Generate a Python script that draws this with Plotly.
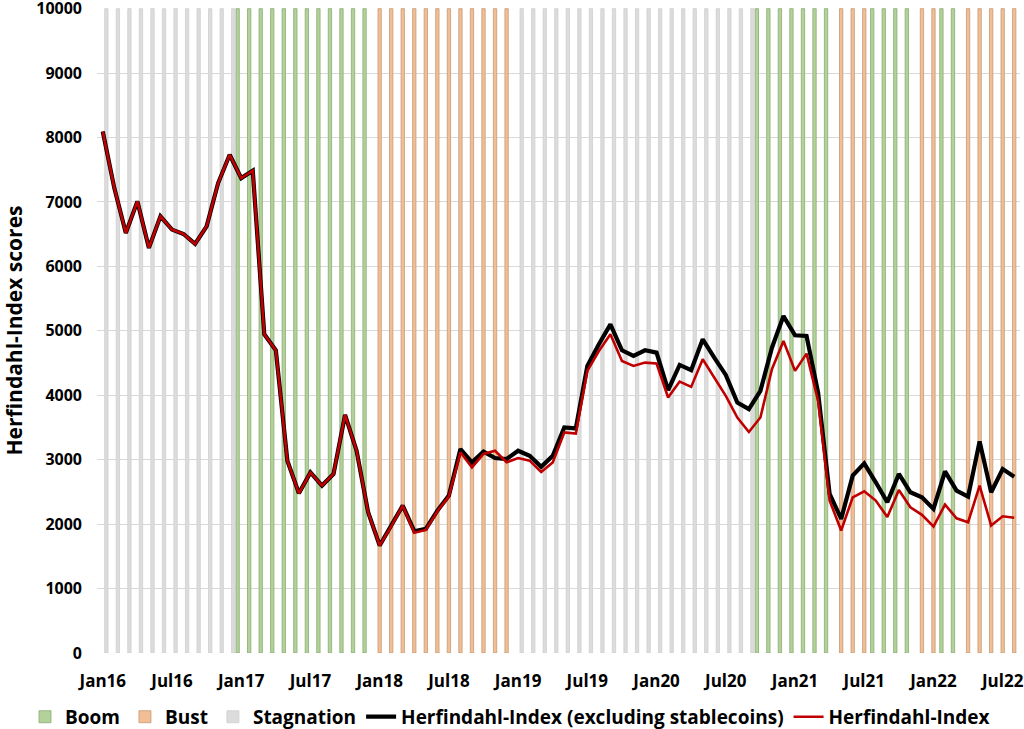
import plotly.graph_objects as go
import pandas as pd

# Monthly categories Jan16 .. Aug22
months = [d.strftime("%b%y") for d in pd.date_range("2016-01-01", "2022-08-01", freq="MS")]

# Market regime per month: S = Stagnation, G = Boom, R = Bust
regime_codes = (
    "SSSSSSSSSSSS"   # 2016
    "GGGGGGGGGGGG"   # 2017
    "RRRRRRRRRRRR"   # 2018
    "SSSSSSSSSSSS"   # 2019
    "SSSSSSSSSGGG"   # 2020
    "GGGGRRRGGGGR"   # 2021
    "RGGRRRRR"       # 2022 (Jan-Aug)
)

hhi_ex_stable = [
    8093, 7215, 6519, 7009, 6287, 6777, 6571, 6503, 6348, 6622,
    7293, 7732, 7370, 7484, 4946, 4698, 2985, 2478, 2803, 2598,
    2779, 3697, 3139, 2184, 1669, 1965, 2288, 1890, 1927, 2210,
    2443, 3165, 2958, 3125, 3026, 3010, 3139, 3060, 2890, 3062,
    3500, 3485, 4455, 4791, 5100, 4698, 4610, 4698, 4662, 4079,
    4471, 4389, 4868, 4584, 4316, 3887, 3785, 4068, 4738, 5229,
    4930, 4920, 4042, 2469, 2082, 2752, 2943, 2649, 2339, 2779,
    2494, 2416, 2237, 2819, 2520, 2427, 3283, 2494, 2856, 2737,
]

hhi = [
    8093, 7215, 6519, 7009, 6287, 6777, 6571, 6503, 6348, 6622,
    7293, 7732, 7370, 7484, 4946, 4698, 2985, 2478, 2803, 2598,
    2779, 3697, 3139, 2184, 1669, 1965, 2288, 1865, 1910, 2200,
    2430, 3115, 2880, 3090, 3139, 2960, 3026, 2985, 2810, 2958,
    3423, 3405, 4378, 4687, 4946, 4533, 4455, 4507, 4492, 3965,
    4212, 4130, 4559, 4274, 3991, 3655, 3430, 3655, 4404, 4842,
    4378, 4646, 3913, 2365, 1901, 2416, 2509, 2365, 2110, 2531,
    2262, 2144, 1963, 2303, 2091, 2029, 2598, 1978, 2122, 2098,
]

tick_labels = ["Jan16", "Jul16", "Jan17", "Jul17", "Jan18", "Jul18", "Jan19",
               "Jul19", "Jan20", "Jul20", "Jan21", "Jul21", "Jan22", "Jul22"]
y_ticks = [0, 1000, 2000, 3000, 4000, 5000, 6000, 7000, 8000, 9000, 10000]

BAR_TOP = 10000
regimes = [
    ("Boom", "G", "#B2D29A", "#8AAB72", -0.455),
    ("Bust", "R", "#F2BE95", "#C59A74", -0.145),
    ("Stagnation", "S", "#DCDCDC", "#CFCFCF", 0.165),
]

idx = list(range(len(months)))
tick_pos = [months.index(t) for t in tick_labels]

FONT = "Open Sans"
fig = go.Figure()

for name, code, fill, edge, off in regimes:
    vals = [BAR_TOP if c == code else None for c in regime_codes]
    fig.add_trace(go.Bar(
        x=idx, y=vals, name=name,
        width=0.29, offset=off,
        marker=dict(color=fill, line=dict(color=edge, width=0.8)),
        customdata=months, hoverinfo="skip",
    ))

fig.add_trace(go.Scatter(
    x=idx, y=hhi_ex_stable, mode="lines",
    name="Herfindahl-Index (excluding stablecoins)",
    line=dict(color="#000000", width=4.2),
    customdata=months,
))
fig.add_trace(go.Scatter(
    x=idx, y=hhi, mode="lines",
    name="Herfindahl-Index",
    line=dict(color="#C00000", width=2.6),
    customdata=months,
))

fig.update_layout(
    width=1024, height=729,
    margin=dict(l=97, r=4, t=8, b=76, autoexpand=False),
    plot_bgcolor="white", paper_bgcolor="white",
    barmode="overlay",
    font=dict(family=FONT, color="black", size=15, weight="bold"),
    showlegend=True,
    legend=dict(
        orientation="h", x=-0.078, xanchor="left", y=-0.099, yanchor="middle",
        font=dict(family=FONT, size=19, weight="bold", color="black"),
        traceorder="normal", itemwidth=30, tracegroupgap=0,
    ),
)

fig.update_xaxes(
    type="linear",
    range=[-0.5, len(months) - 0.5],
    tickmode="array", tickvals=tick_pos, ticktext=tick_labels,
    showgrid=False, zeroline=False, showline=False,
    ticks="", ticklabelstandoff=16,
    tickfont=dict(family=FONT, size=17, weight="bold", color="black"),
)

fig.update_yaxes(
    range=[0, 10010],
    tickmode="array", tickvals=y_ticks, ticktext=[str(v) for v in y_ticks],
    showgrid=True, gridcolor="#D9D9D9", gridwidth=1,
    zeroline=False, showline=False, ticks="",
    ticklabelstandoff=14, ticklabeloverflow="allow",
    tickfont=dict(family=FONT, size=16, weight="bold", color="black"),
    title=dict(text="Herfindahl-Index scores", standoff=8,
               font=dict(family=FONT, size=21, weight="bold", color="black")),
)

fig.write_html(
    "out.html",
    config={"displayModeBar": False},
    post_script="document.body.style.margin='0';document.body.style.overflow='hidden';",
)
